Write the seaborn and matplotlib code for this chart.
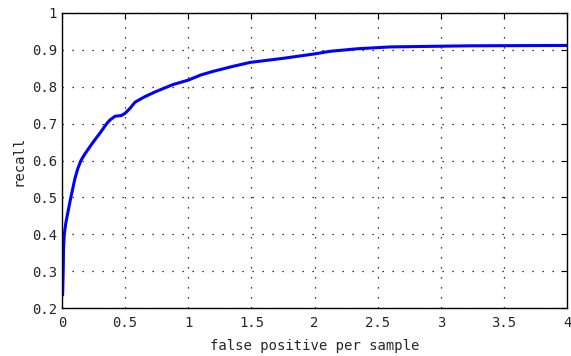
import matplotlib
matplotlib.use("Agg")
import matplotlib.pyplot as plt
import seaborn as sns
import pandas as pd

# values
fppw = [0.005, 0.01, 0.012, 0.018, 0.03, 0.045, 0.07, 0.103, 0.125, 0.15, 0.18,
        0.21, 0.26, 0.30, 0.354, 0.38, 0.42, 0.47, 0.50, 0.54, 0.578, 0.65,
        0.737, 0.88, 1.0, 1.1, 1.2, 1.35, 1.49, 1.75, 2.0, 2.12, 2.34, 2.6,
        3.23, 4.0]
recall = [0.235, 0.31, 0.36, 0.40, 0.43, 0.457, 0.50, 0.552, 0.578, 0.60, 0.617,
          0.632, 0.656, 0.674, 0.70, 0.71, 0.72, 0.722, 0.728, 0.742, 0.758, 0.772,
          0.786, 0.806, 0.818, 0.832, 0.842, 0.855, 0.866, 0.877, 0.889, 0.896, 0.903,
          0.908, 0.911, 0.912]

xticks = [0, 0.5, 1, 1.5, 2, 2.5, 3, 3.5, 4]
yticks = [0.2, 0.3, 0.4, 0.5, 0.6, 0.7, 0.8, 0.9, 1]
xtick_labels = ["0", "0.5", "1", "1.5", "2", "2.5", "3", "3.5", "4"]
ytick_labels = ["0.2", "0.3", "0.4", "0.5", "0.6", "0.7", "0.8", "0.9", "1"]

df = pd.DataFrame({"fp": fppw, "recall": recall})

sns.set_style("white")
plt.rcParams["font.family"] = ["DejaVu Sans Mono"]

fig = plt.figure(figsize=(5.71, 3.56), dpi=100)
ax = fig.add_axes([0.1086, 0.1348, 0.8844, 0.8287])

sns.lineplot(data=df, x="fp", y="recall", color="blue", linewidth=2.2, ax=ax)

ax.set_xlim(0, 4)
ax.set_ylim(0.2, 1)
ax.set_xticks(xticks)
ax.set_xticklabels(xtick_labels, fontsize=10)
ax.set_yticks(yticks)
ax.set_yticklabels(ytick_labels, fontsize=10)
ax.grid(True, linestyle=(0, (1, 7)), color="black", linewidth=0.9)
ax.tick_params(direction="in", length=4, top=True, right=True, color="black")
ax.tick_params(axis="x", pad=6)
for s in ax.spines.values():
    s.set_color("black")
    s.set_linewidth(1.0)

ax.set_xlabel("false positive per sample", fontsize=10, labelpad=6)
ax.set_ylabel("recall", fontsize=10, labelpad=5)

fig.savefig("out.png", dpi=100)
